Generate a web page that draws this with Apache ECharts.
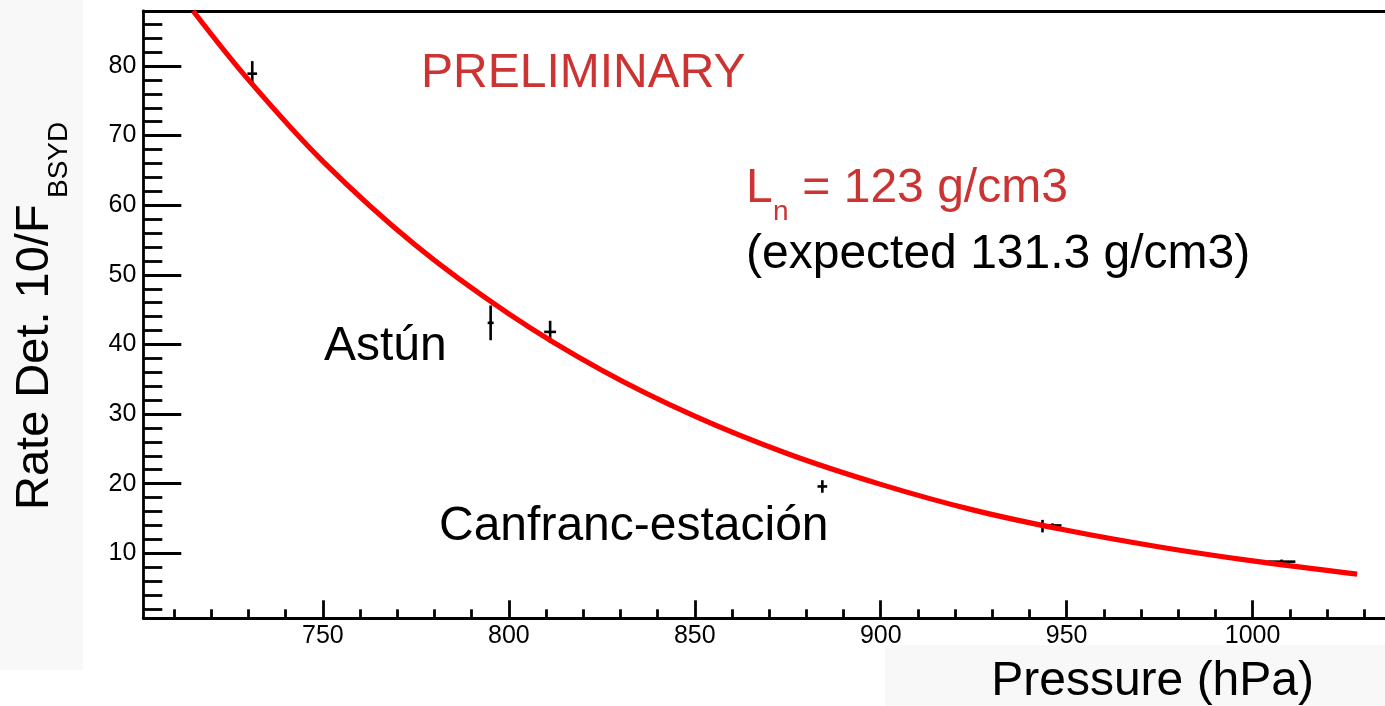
<!DOCTYPE html>
<html>
<head>
<meta charset="utf-8">
<script src="https://cdn.jsdelivr.net/npm/echarts@6/dist/echarts.min.js"></script>
<style>
html,body{margin:0;padding:0;background:#fff;}
#chart{width:1385px;height:706px;}
</style>
</head>
<body>
<div id="chart"></div>
<script>
// Measured points (pressure in hPa, rate) with errors
const pressure    = [731.0, 795.1, 811.1, 884.3, 943.5, 946.2, 1007.8];
const rate        = [78.9, 43.1, 41.8, 19.6, 13.9, 14.0, 8.8];
const pressureErr = [1.3, 0.8, 1.6, 1.3, 0.6, 2.4, 3.7];
const rateErr     = [1.8, 2.5, 1.6, 0.9, 0.9, 0.3, 0.3];

// Fitted curve
const fitPressure = [715.1, 730, 750, 775, 800, 825, 850, 875, 900, 925, 950, 975, 1000, 1028.1];
const fitRate     = [87.9, 78.0, 66.3, 54.2, 44.4, 36.3, 29.7, 24.3, 19.9, 16.2, 13.3, 10.9, 8.9, 7.0];

// Axis ticks
const xMajorTicks = [750, 800, 850, 900, 950, 1000];
const xMinorTicks = [710, 720, 730, 740, 760, 770, 780, 790, 810, 820, 830, 840, 860, 870, 880, 890, 910, 920, 930, 940, 960, 970, 980, 990, 1010, 1020, 1030];
const yMajorTicks = [10, 20, 30, 40, 50, 60, 70, 80];
const yMinorTicks = [2, 4, 6, 8, 12, 14, 16, 18, 22, 24, 26, 28, 32, 34, 36, 38, 42, 44, 46, 48, 52, 54, 56, 58, 62, 64, 66, 68, 72, 74, 76, 78, 82, 84, 86];

const xMin = 701.7, xMax = 1035.6;
const yMin = 0.66, yMax = 87.9;

const FONT = '"Liberation Sans", Arial, Helvetica, sans-serif';
const RED_TXT = '#cc3333';

const chart = echarts.init(document.getElementById('chart'), null, {renderer: 'canvas'});

const errData = pressure.map((p, i) => [p, rate[i], pressureErr[i], rateErr[i]]);
const fitData = fitPressure.map((p, i) => [p, fitRate[i]]);

const axisLineStyle = {color: '#000', width: 2.8};
const plainNum = v => String(v);

const option = {
  backgroundColor: '#ffffff',
  animation: false,
  grid: {left: 143.3, top: 11, right: 0, bottom: 87.7, containLabel: false},
  xAxis: [
    {
      type: 'value', min: xMin, max: xMax, position: 'bottom',
      axisLine: {show: true, lineStyle: axisLineStyle},
      axisTick: {show: true, inside: true, length: 18, lineStyle: axisLineStyle, customValues: xMajorTicks},
      axisLabel: {show: true, customValues: xMajorTicks, formatter: plainNum, fontSize: 25, color: '#000', margin: 5, fontFamily: FONT},
      splitLine: {show: false}
    },
    {
      type: 'value', min: xMin, max: xMax, position: 'bottom',
      axisLine: {show: false},
      axisTick: {show: true, inside: true, length: 9, lineStyle: axisLineStyle, customValues: xMinorTicks},
      axisLabel: {show: false},
      splitLine: {show: false}
    },
    {
      type: 'value', min: xMin, max: xMax, position: 'top',
      axisLine: {show: true, lineStyle: axisLineStyle},
      axisTick: {show: false},
      axisLabel: {show: false},
      splitLine: {show: false}
    }
  ],
  yAxis: [
    {
      type: 'value', min: yMin, max: yMax, position: 'left',
      axisLine: {show: true, lineStyle: axisLineStyle},
      axisTick: {show: true, inside: true, length: 38, lineStyle: axisLineStyle, customValues: yMajorTicks},
      axisLabel: {show: true, customValues: yMajorTicks, formatter: plainNum, fontSize: 25, color: '#000', margin: 7, fontFamily: FONT},
      splitLine: {show: false}
    },
    {
      type: 'value', min: yMin, max: yMax, position: 'left',
      axisLine: {show: false},
      axisTick: {show: true, inside: true, length: 19, lineStyle: axisLineStyle, customValues: yMinorTicks},
      axisLabel: {show: false},
      splitLine: {show: false}
    }
  ],
  series: [
    {
      type: 'custom',
      xAxisIndex: 0, yAxisIndex: 0,
      z: 2,
      data: errData,
      renderItem: function (params, api) {
        const x = api.value(0), y = api.value(1), ex = api.value(2), ey = api.value(3);
        const l = api.coord([x - ex, y]);
        const r = api.coord([x + ex, y]);
        const t = api.coord([x, y + ey]);
        const b = api.coord([x, y - ey]);
        const st = {stroke: '#000', lineWidth: 2.6};
        return {
          type: 'group',
          children: [
            {type: 'line', shape: {x1: l[0], y1: l[1], x2: r[0], y2: r[1]}, style: st},
            {type: 'line', shape: {x1: t[0], y1: t[1], x2: b[0], y2: b[1]}, style: st}
          ]
        };
      }
    },
    {
      type: 'line',
      xAxisIndex: 0, yAxisIndex: 0,
      z: 3,
      data: fitData,
      smooth: 0.35,
      showSymbol: false,
      clip: true,
      lineStyle: {color: '#ff0000', width: 5.2}
    }
  ],
  graphic: [
    {type: 'rect', z: -10, silent: true, shape: {x: 0, y: 0, width: 83, height: 670}, style: {fill: '#f8f8f8'}},
    {type: 'rect', z: -10, silent: true, shape: {x: 885, y: 645, width: 500, height: 61}, style: {fill: '#f8f8f8'}},
    {type: 'text', z: 10, x: 421, y: 74, style: {text: 'PRELIMINARY', font: '48px ' + FONT, fill: RED_TXT, textAlign: 'left', textVerticalAlign: 'middle'}},
    {type: 'text', z: 10, x: 746, y: 189, style: {text: 'L', font: '48px ' + FONT, fill: RED_TXT, textAlign: 'left', textVerticalAlign: 'middle'}},
    {type: 'text', z: 10, x: 773, y: 212, style: {text: 'n', font: '28px ' + FONT, fill: RED_TXT, textAlign: 'left', textVerticalAlign: 'middle'}},
    {type: 'text', z: 10, x: 789, y: 189, style: {text: ' = 123 g/cm3', font: '48px ' + FONT, fill: RED_TXT, textAlign: 'left', textVerticalAlign: 'middle'}},
    {type: 'text', z: 10, x: 746, y: 255, style: {text: '(expected 131.3 g/cm3)', font: '48px ' + FONT, fill: '#000', textAlign: 'left', textVerticalAlign: 'middle'}},
    {type: 'text', z: 10, x: 324, y: 347, style: {text: 'Astún', font: '48px ' + FONT, fill: '#000', textAlign: 'left', textVerticalAlign: 'middle'}},
    {type: 'text', z: 10, x: 439, y: 527, style: {text: 'Canfranc-estación', font: '48px ' + FONT, fill: '#000', textAlign: 'left', textVerticalAlign: 'middle'}},
    {type: 'text', z: 10, x: 1314, y: 682, style: {text: 'Pressure (hPa)', font: '48px ' + FONT, fill: '#000', textAlign: 'right', textVerticalAlign: 'middle'}},
    {type: 'text', z: 10, x: 35, y: 510, rotation: Math.PI / 2, style: {text: 'Rate Det. 10/F', font: '47px ' + FONT, fill: '#000', textAlign: 'left', textVerticalAlign: 'middle'}},
    {type: 'text', z: 10, x: 59, y: 198, rotation: Math.PI / 2, style: {text: 'BSYD', font: '28px ' + FONT, fill: '#000', textAlign: 'left', textVerticalAlign: 'middle'}}
  ]
};

chart.setOption(option);
</script>
</body>
</html>
